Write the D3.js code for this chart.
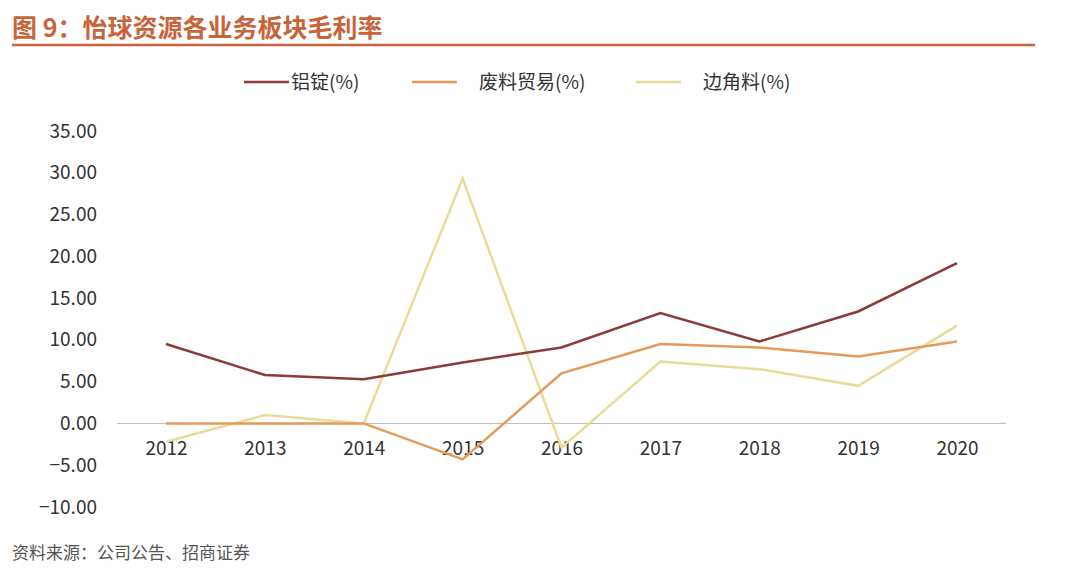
<!DOCTYPE html><html><head><meta charset="utf-8"><script src="https://cdn.jsdelivr.net/npm/d3@7"></script>
<style>body{margin:0;background:#fff}text{font-family:"Noto Sans CJK SC",sans-serif}</style></head><body>
<svg id="c" width="1080" height="578"></svg>
<script>
const years=["2012","2013","2014","2015","2016","2017","2018","2019","2020"];
const ingot=[9.5,5.8,5.3,7.3,9.1,13.2,9.8,13.4,19.2];
const scrapTrade=[0,0,0,-4.3,6.0,9.5,9.1,8.0,9.8];
const offcuts=[-2.2,1.0,0,29.3,-2.9,7.4,6.5,4.5,11.7];
const seriesNames=["铝锭(%)","废料贸易(%)","边角料(%)"];
const colors=["#8c3b36","#e59a5a","#e8dc98"];
const yTicks=[-10,-5,0,5,10,15,20,25,30,35];
const svg=d3.select("#c");
svg.append("text").attr("x",12).attr("y",37).attr("font-size",25).attr("font-weight","bold").attr("fill","#c8643c").text("图 9：怡球资源各业务板块毛利率");
svg.append("line").attr("x1",12).attr("x2",1035).attr("y1",45).attr("y2",45).attr("stroke","#c8643c").attr("stroke-width",2.5);
const x=d3.scalePoint().domain(years).range([166,957]);
const y=d3.scaleLinear().domain([-10,35]).range([507,131]);
svg.append("line").attr("x1",117).attr("x2",1006).attr("y1",y(0)).attr("y2",y(0)).attr("stroke","#bbb");
const xa=svg.append("g").attr("transform",`translate(0,${y(0)})`).call(d3.axisBottom(x).tickSize(0).tickPadding(18));
xa.select(".domain").remove();xa.selectAll("text").attr("font-size",19).attr("fill","#333");
const ya=svg.append("g").attr("transform","translate(100,0)").call(d3.axisLeft(y).tickValues(yTicks).tickSize(0).tickFormat(d=>d3.format(".2f")(d)));
ya.select(".domain").remove();ya.selectAll("text").attr("font-size",19).attr("fill","#333");
const data=[ingot,scrapTrade,offcuts];
const line=d3.line().x((d,i)=>x(years[i])).y(d=>y(d));
[2,1,0].forEach(k=>svg.append("path").datum(data[k]).attr("d",line).attr("fill","none").attr("stroke",colors[k]).attr("stroke-width",2.5));
const lx=[244,412,636];
seriesNames.forEach((n,k)=>{svg.append("line").attr("x1",lx[k]).attr("x2",lx[k]+45).attr("y1",82).attr("y2",82).attr("stroke",colors[k]).attr("stroke-width",2.5);
svg.append("text").attr("x",lx[k]+(k==0?47:67)).attr("y",89).attr("font-size",19).attr("fill","#333").text(n);});
svg.append("text").attr("x",12).attr("y",559).attr("font-size",17).attr("fill","#555").text("资料来源：公司公告、招商证券");
</script></body></html>
